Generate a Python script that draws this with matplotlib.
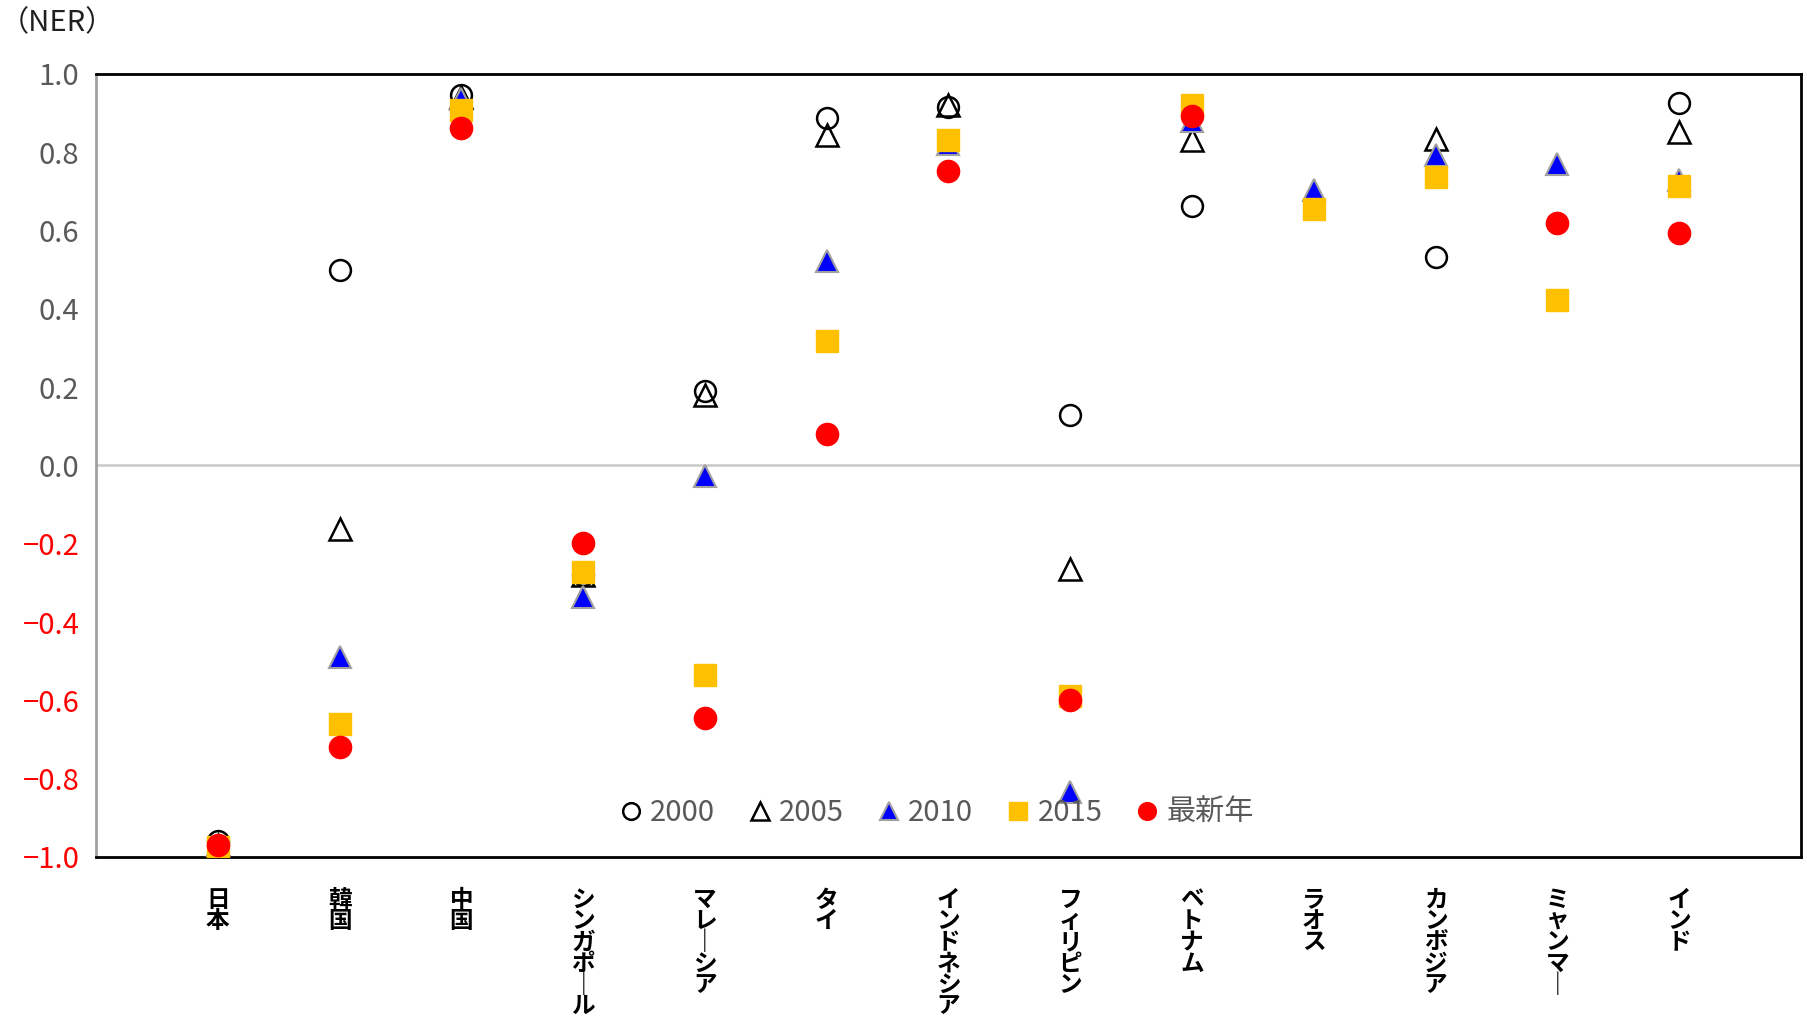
import numpy as np
from matplotlib import pyplot as plt

plt.rcParams['font.family'] = ['Noto Sans CJK JP', 'DejaVu Sans']

countries = ["日本", "韓国", "中国", "シンガポール", "マレーシア", "タイ", "インドネシア",
             "フィリピン", "ベトナム", "ラオス", "カンボジア", "ミャンマー", "インド"]
nan = np.nan
ner_2000 = [-0.96, 0.50, 0.945, -0.28, 0.19, 0.888, 0.915, 0.128, 0.664, nan, 0.533, nan, 0.926]
ner_2005 = [-0.97, -0.163, 0.94, -0.28, 0.18, 0.845, 0.92, -0.265, 0.832, nan, 0.833, nan, 0.852]
ner_2010 = [-0.97, -0.49, 0.935, -0.336, -0.028, 0.523, 0.82, -0.834, 0.88, 0.703, 0.793, 0.77, 0.729]
ner_2015 = [-0.975, -0.66, 0.907, -0.272, -0.535, 0.317, 0.832, -0.59, 0.92, 0.655, 0.737, 0.423, 0.713]
ner_latest = [-0.97, -0.72, 0.863, -0.197, -0.646, 0.081, 0.753, -0.598, 0.892, nan, nan, 0.62, 0.593]

x = np.arange(1, len(countries) + 1)

fig = plt.figure(figsize=(18.08, 10.33), dpi=100)
ax = fig.add_axes([0.0531, 0.1704, 0.943, 0.758])

ax.axhline(0, color="#c8c8c8", lw=1.8, zorder=1)

ms = 15
ax.plot(x, ner_2000, "o", ms=ms, mfc="none", mec="black", mew=1.8, label="2000", zorder=3)
ax.plot(x, ner_2005, "^", ms=ms + 1, mfc="none", mec="black", mew=1.8, label="2005", zorder=3)
ax.plot(x, ner_2010, "^", ms=ms + 1, mfc="#0000ff", mec="#a0a0a0", mew=1.5, label="2010", zorder=4)
ax.plot(x, ner_2015, "s", ms=ms + 1, mfc="#ffc000", mec="#ffc000", mew=1, label="2015", zorder=5)
ax.plot(x, ner_latest, "o", ms=ms + 1, mfc="#ff0000", mec="#ff0000", mew=1, label="最新年", zorder=6)

ax.set_xlim(0, 14)
ax.set_ylim(-1.0, 1.0)
yt = np.round(np.arange(-1.0, 1.01, 0.2), 1)
ax.set_yticks(yt)
ax.set_yticklabels(["−%.1f" % abs(v) if v < -0.01 else "%.1f" % abs(v) for v in yt], fontsize=21)
for lab, v in zip(ax.get_yticklabels(), yt):
    lab.set_color("#ff0000" if v < -0.01 else "#595959")
ax.tick_params(axis="y", length=0, pad=12)

# stacked vertical labels, long vowel drawn upright
ax.set_xticks(x)
ax.set_xticklabels(["\n".join(c.replace("ー", "｜")) for c in countries],
                   fontsize=17, fontweight="bold", va="top", linespacing=0.86)
ax.tick_params(axis="x", length=0, pad=22)

for side in ["top", "bottom", "right"]:
    ax.spines[side].set_color("black")
    ax.spines[side].set_linewidth(2)
ax.spines["left"].set_color("#a0a0a0")
ax.spines["left"].set_linewidth(2)

leg = ax.legend(loc="center", bbox_to_anchor=(0.516, 0.213), bbox_transform=fig.transFigure,
                ncol=5, frameon=False, fontsize=21, handletextpad=0.0, columnspacing=0.9,
                handlelength=1.3, markerscale=0.8)
for t in leg.get_texts():
    t.set_color("#595959")

fig.text(0.0, 0.978, "（NER）", fontsize=21, va="center", ha="left", color="#202020")

fig.savefig("out.png", dpi=100)
